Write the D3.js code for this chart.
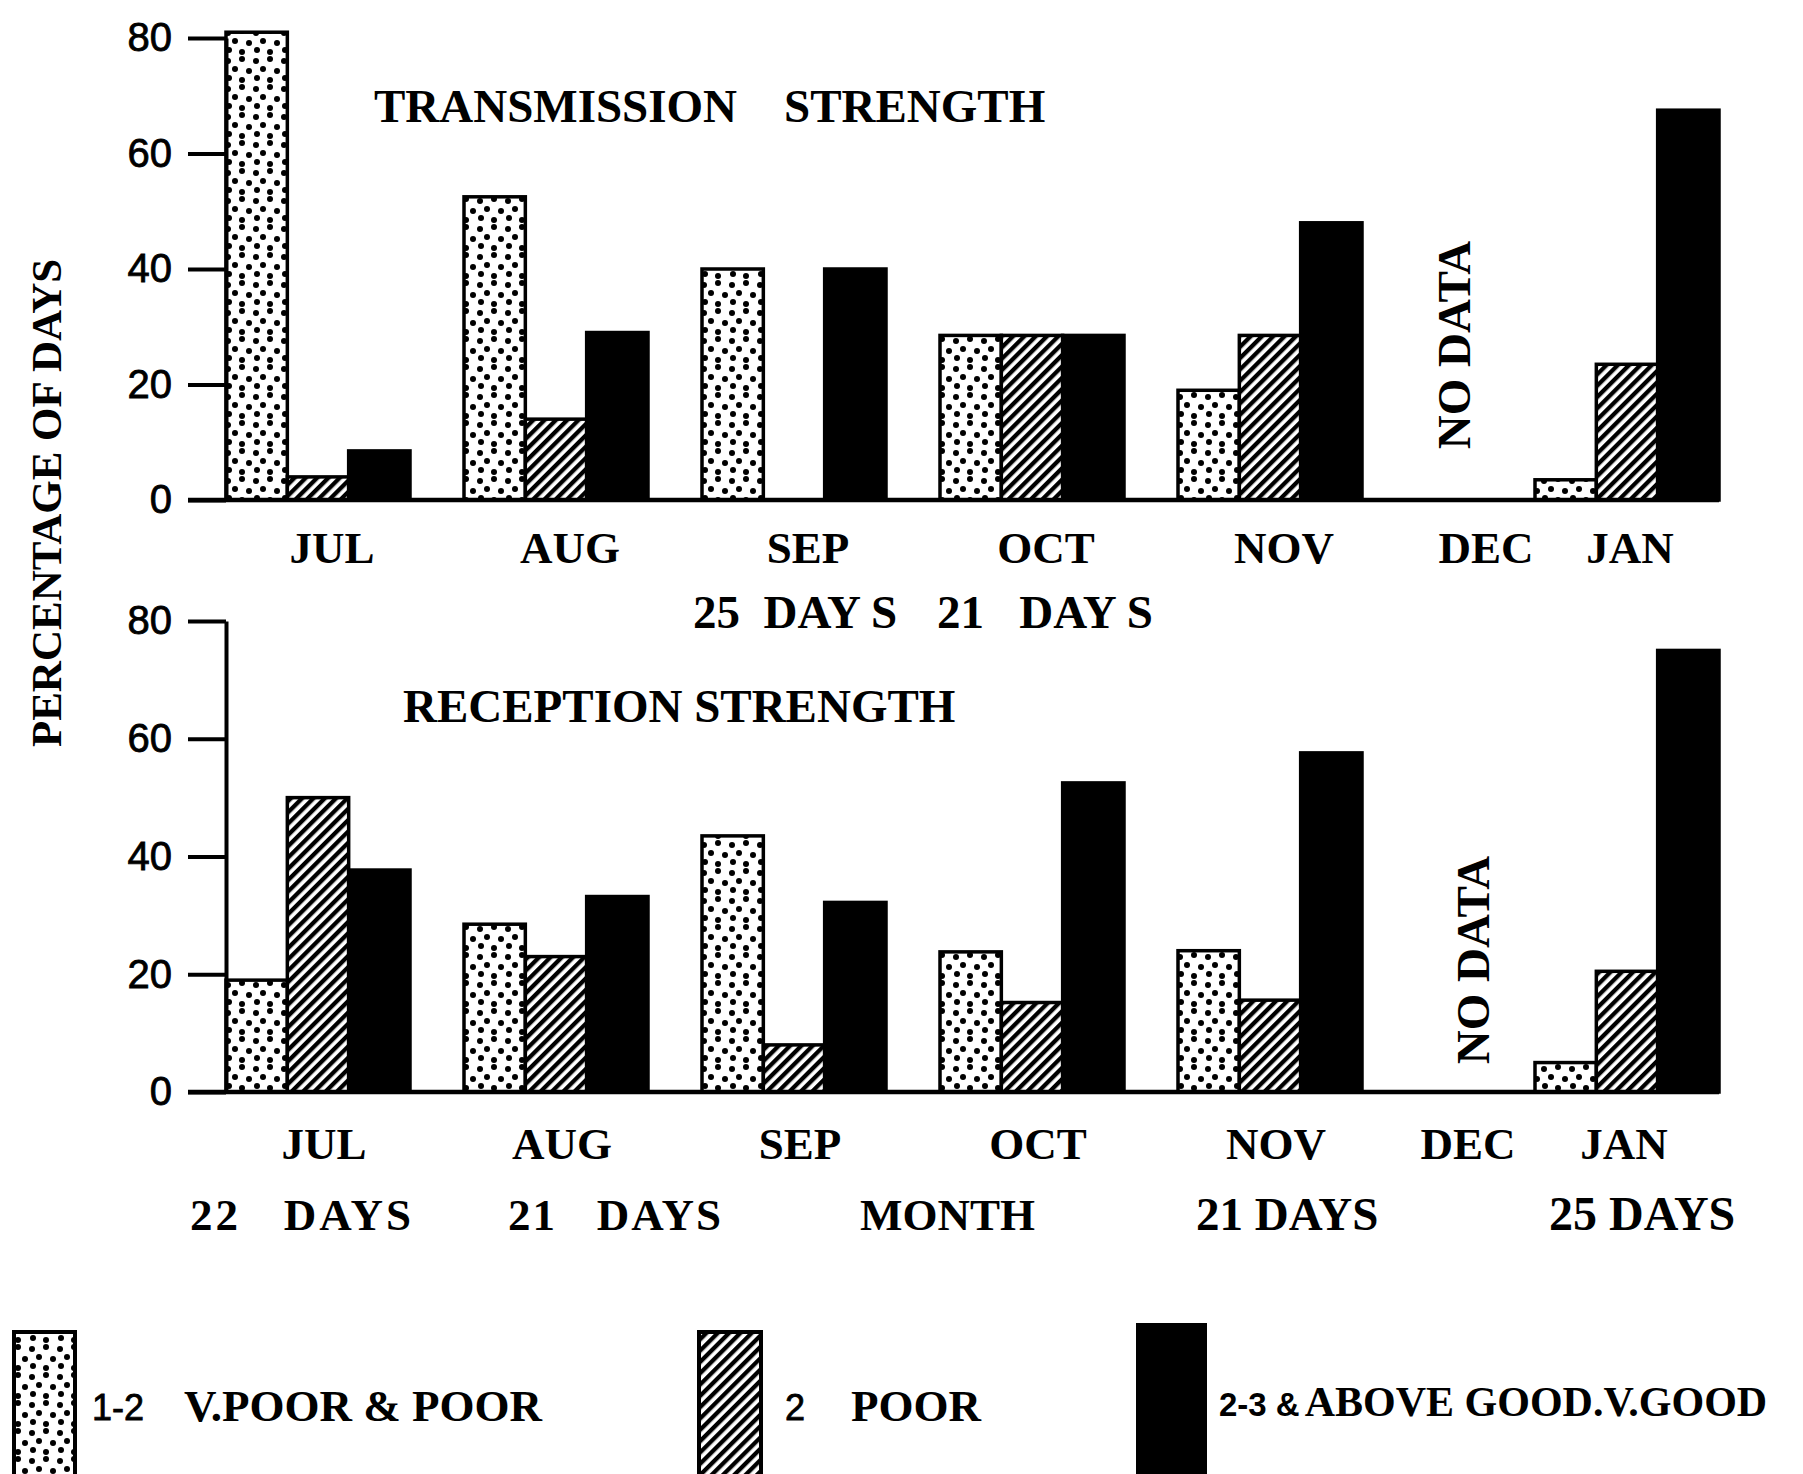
<!DOCTYPE html>
<html><head><meta charset="utf-8">
<script src="https://cdn.jsdelivr.net/npm/d3@7"></script>
<style>
html,body{margin:0;padding:0;background:#fff;}
svg{display:block;}
.serif{font-family:"Liberation Serif","Times New Roman",serif;font-weight:bold;fill:#000;}
.sans{font-family:"Liberation Sans",Arial,sans-serif;fill:#000;}
</style></head>
<body>
<svg id="chart" width="1803" height="1474"></svg>
<script>
// ---------- data ----------
const months = ["JUL","AUG","SEP","OCT","NOV","DEC","JAN"];
const seriesKeys = ["vpoor","poor","good"];
const seriesLabels = ["V.POOR & POOR","POOR","ABOVE GOOD.V.GOOD"];
const seriesCodes = ["1-2","2","2-3 &"];
const yTicks = [0,20,40,60,80];
// transmission strength (% of days); null = no data
const transVPoor = [81, 52.5, 40, 28.5, 19, null, 3.5];
const transPoor  = [4, 14, 0, 28.5, 28.5, null, 23.5];
const transGood  = [8.5, 29, 40, 28.5, 48, null, 67.5];
// reception strength (% of days)
const recVPoor = [19, 28.5, 43.5, 23.8, 24, null, 5];
const recPoor  = [50, 23, 8, 15.2, 15.6, null, 20.5];
const recGood  = [37.7, 33.2, 32.2, 52.5, 57.6, null, 75];
const transTitle = "TRANSMISSION    STRENGTH";
const recTitle = "RECEPTION STRENGTH";
const transNotes = ["25  DAY S","21   DAY S"];
const recNotes = ["22   DAYS","21   DAYS","MONTH","21 DAYS","25 DAYS"];
const noDataText = "NO DATA";
const yLabel = "PERCENTAGE OF DAYS";

// ---------- drawing ----------
const svg = d3.select("#chart");
const defs = svg.append("defs");

// stipple pattern
const dots = defs.append("pattern").attr("id","dots").attr("patternUnits","userSpaceOnUse")
  .attr("width",28).attr("height",28);
dots.append("rect").attr("width",28).attr("height",28).attr("fill","#fff");
[[4,5],[18,3],[11,13],[25,15],[5,22],[18,24]].forEach(p=>{
  dots.append("circle").attr("cx",p[0]).attr("cy",p[1]).attr("r",3).attr("fill","#000");
});
// hatch pattern
const hatch = defs.append("pattern").attr("id","hatch").attr("patternUnits","userSpaceOnUse")
  .attr("width",8).attr("height",8).attr("patternTransform","rotate(45)");
hatch.append("rect").attr("width",8).attr("height",8).attr("fill","#fff");
hatch.append("rect").attr("x",0).attr("y",0).attr("width",4.3).attr("height",8).attr("fill","#000");

const fills = {vpoor:"url(#dots)", poor:"url(#hatch)", good:"#000"};

// slot layout: months without data take half a slot
const slots = [];
{ let s = 0; months.forEach((m,i)=>{ slots.push(s); s += (transVPoor[i]===null ? 0.5 : 1); }); }
const x = d3.scaleLinear().domain([0,5.5]).range([226,1535]);
const groupW = 184;
const xSub = d3.scaleBand().domain(seriesKeys).range([0,groupW]).padding(0);

function panel(opts){
  const y = d3.scaleLinear().domain([0,80]).range(opts.range);
  const g = svg.append("g");
  const data = [];
  months.forEach((mm,i)=>{
    if (opts.vals[0][i]===null) return;
    seriesKeys.forEach((k,j)=>{
      data.push({m:mm, i:i, k:k, v: opts.vals[j][i]});
    });
  });
  g.selectAll("rect.bar").data(data.filter(d=>d.v>0)).join("rect")
    .attr("class","bar")
    .attr("x", d=>x(slots[d.i]) + xSub(d.k))
    .attr("width", xSub.bandwidth())
    .attr("y", d=>y(d.v))
    .attr("height", d=>y(0)-y(d.v))
    .attr("fill", d=>fills[d.k])
    .attr("stroke","#000").attr("stroke-width",3.5);

  // axis
  const ax = g.append("g").attr("transform",`translate(${x(0)},0)`)
    .call(d3.axisLeft(y).tickValues(yTicks).tickSize(38).tickPadding(16).tickSizeOuter(0));
  ax.attr("font-family",null).attr("font-size",null);
  ax.select(".domain").attr("stroke","#000").attr("stroke-width",4);
  ax.selectAll(".tick line").attr("stroke","#000").attr("stroke-width",4);
  ax.selectAll(".tick text").attr("class","sans").style("font-size","40px")
    .attr("fill","#000").attr("stroke","#000").attr("stroke-width",0.8);
  // baseline
  const endX = x(slots[months.length-1]) + groupW;
  g.append("line").attr("x1",x(0)-38).attr("x2",endX).attr("y1",y(0)).attr("y2",y(0))
    .attr("stroke","#000").attr("stroke-width",4.5);

  // month labels
  g.selectAll("text.month").data(months).join("text").attr("class","serif month")
    .attr("x",(d,i)=> transVPoor[i]===null ? x(slots[i]) + 60 + opts.decDx
         : x(slots[i]) + groupW/2 + (i===months.length-1 ? opts.janDx : opts.mdx))
    .attr("y", opts.monthY).attr("text-anchor","middle").style("font-size","45px").text(d=>d);

  // no data
  const dIdx = months.indexOf("DEC");
  g.append("text").attr("class","serif")
    .attr("transform",`translate(${x(slots[dIdx]) + 60 + opts.ndDx},${opts.ndY}) rotate(-90)`)
    .attr("text-anchor","middle").attr("dy","0.35em").style("font-size","47px").text(noDataText);

  // title
  g.append("text").attr("class","serif").attr("x",opts.titleX).attr("y",opts.titleY)
    .style("font-size","47px").style("white-space","pre").attr("xml:space","preserve").text(opts.title);
  return y;
}

panel({range:[500,38], vals:[transVPoor,transPoor,transGood], monthY:563, mdx:14, janDx:3, decDx:10,
  ndDx:-22, ndY:345, title:transTitle, titleX:374, titleY:122});
panel({range:[1092,621], vals:[recVPoor,recPoor,recGood], monthY:1159, mdx:6, janDx:-3, decDx:-8,
  ndDx:-3, ndY:960, title:recTitle, titleX:403, titleY:722});

// notes
const transNoteX = [693, 937];
transNotes.forEach((t,i)=>{
  svg.append("text").attr("class","serif").attr("x",transNoteX[i]).attr("y",628)
    .attr("xml:space","preserve").style("white-space","pre").style("font-size","47px").text(t);
});
const recNoteX = [190,508,860,1196,1549];
const recNoteSpacing = [3,2,0,0,0];
const recNoteSize = [45,45,45,47,48];
recNotes.forEach((t,i)=>{
  svg.append("text").attr("class","serif").attr("x",recNoteX[i]).attr("y",1230)
    .attr("xml:space","preserve").style("white-space","pre").style("letter-spacing",recNoteSpacing[i]+"px")
    .style("font-size",recNoteSize[i]+"px").text(t);
});

// y label
svg.append("text").attr("class","serif").attr("transform","translate(46,503) rotate(-90)")
  .attr("text-anchor","middle").attr("dy","0.35em").style("font-size","43px").text(yLabel);

// legend
const legBoxX = [14,699,1138];
const legBoxTop = [1332,1332,1325];
const legBoxW = [61,62,67];
const legCodeX = [92,785,1219];
const legTextX = [184,851,null];
seriesKeys.forEach((k,i)=>{
  svg.append("rect").attr("x",legBoxX[i]).attr("y",legBoxTop[i]).attr("width",legBoxW[i])
    .attr("height",1474-legBoxTop[i]+10).attr("fill",fills[k]).attr("stroke","#000").attr("stroke-width",4);
});
svg.append("text").attr("class","sans").attr("x",legCodeX[0]).attr("y",1420).style("font-size","36px")
  .attr("stroke","#000").attr("stroke-width",0.8).text(seriesCodes[0]);
svg.append("text").attr("class","serif").attr("x",legTextX[0]).attr("y",1421).style("font-size","45px").text(seriesLabels[0]);
svg.append("text").attr("class","sans").attr("x",legCodeX[1]).attr("y",1420).style("font-size","36px")
  .attr("stroke","#000").attr("stroke-width",0.8).text(seriesCodes[1]);
svg.append("text").attr("class","serif").attr("x",legTextX[1]).attr("y",1421).style("font-size","45px").text(seriesLabels[1]);
const t3 = svg.append("text").attr("x",legCodeX[2]).attr("y",1416);
t3.append("tspan").attr("class","sans").style("font-size","33px").style("font-weight","bold").text(seriesCodes[2]);
t3.append("tspan").attr("class","serif").attr("dx",5).style("font-size","42px").text(seriesLabels[2]);
</script>
</body></html>
